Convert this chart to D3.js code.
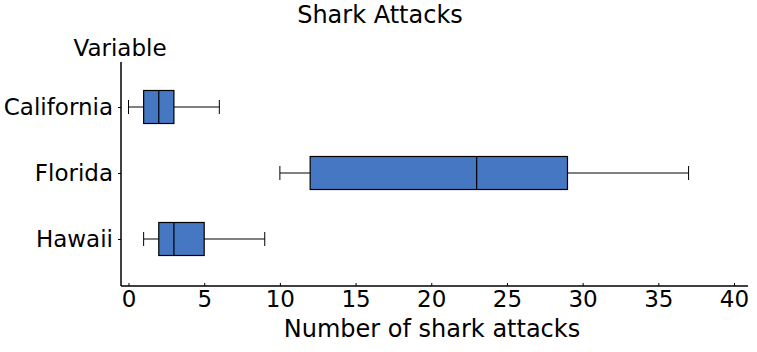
<!DOCTYPE html>
<html>
<head>
<meta charset="utf-8">
<script src="https://cdn.jsdelivr.net/npm/d3@7"></script>
<style>
  body { margin: 0; background: #fff; }
  svg { font-family: "DejaVu Sans", Verdana, sans-serif; }
</style>
</head>
<body>
<script>
// data
var categories = ["California", "Florida", "Hawaii"];
var mins    = [0, 10, 1];
var q1s     = [1, 12, 2];
var medians = [2, 23, 3];
var q3s     = [3, 29, 5];
var maxs    = [6, 37, 9];
var xTicks  = [0, 5, 10, 15, 20, 25, 30, 35, 40];

var width = 757, height = 352;
var plot = {left: 121, right: 748, top: 62, bottom: 286};

var svg = d3.select("body").append("svg")
    .attr("width", width)
    .attr("height", height);

var x = d3.scaleLinear().domain([0, 40]).range([128.5, 734]);
var y = d3.scalePoint().domain(categories).range([107, 239]);

var boxH = 33, capH = 14;

var rows = categories.map(function(c, i) {
  return {cat: c, min: mins[i], q1: q1s[i], med: medians[i], q3: q3s[i], max: maxs[i]};
});

// x axis
var gx = svg.append("g")
    .attr("transform", "translate(0," + plot.bottom + ")")
    .call(d3.axisBottom(x).tickValues(xTicks).tickSizeInner(-3).tickSizeOuter(0).tickPadding(5));
gx.select(".domain").remove();
gx.append("line")
    .attr("x1", plot.left).attr("x2", plot.right)
    .attr("stroke", "#000").attr("stroke-width", 1.5);
gx.selectAll(".tick text").attr("font-size", 23).attr("fill", "#000")
    .attr("font-family", "DejaVu Sans, Verdana, sans-serif");

// y axis
var gy = svg.append("g")
    .attr("transform", "translate(" + plot.left + ",0)")
    .call(d3.axisLeft(y).tickSizeInner(3).tickSizeOuter(0).tickPadding(5));
gy.select(".domain").remove();
gy.append("line")
    .attr("y1", plot.top).attr("y2", plot.bottom)
    .attr("stroke", "#000").attr("stroke-width", 1.5);
gy.selectAll(".tick text").attr("font-size", 23).attr("fill", "#000")
    .attr("font-family", "DejaVu Sans, Verdana, sans-serif");

// boxes
var g = svg.selectAll(".box").data(rows).enter().append("g").attr("class", "box");

g.append("line")
    .attr("x1", function(d) { return x(d.min); })
    .attr("x2", function(d) { return x(d.max); })
    .attr("y1", function(d) { return y(d.cat); })
    .attr("y2", function(d) { return y(d.cat); })
    .attr("stroke", "#000").attr("stroke-width", 1);

g.selectAll(".cap").data(function(d) { return [d.min, d.max].map(function(v) { return {v: v, cat: d.cat}; }); })
  .enter().append("line")
    .attr("x1", function(d) { return x(d.v); })
    .attr("x2", function(d) { return x(d.v); })
    .attr("y1", function(d) { return y(d.cat) - capH / 2; })
    .attr("y2", function(d) { return y(d.cat) + capH / 2; })
    .attr("stroke", "#000").attr("stroke-width", 1);

g.append("rect")
    .attr("x", function(d) { return x(d.q1); })
    .attr("width", function(d) { return x(d.q3) - x(d.q1); })
    .attr("y", function(d) { return y(d.cat) - boxH / 2; })
    .attr("height", boxH)
    .attr("fill", "#4677c2")
    .attr("stroke", "#000").attr("stroke-width", 1.2);

g.append("line")
    .attr("x1", function(d) { return x(d.med); })
    .attr("x2", function(d) { return x(d.med); })
    .attr("y1", function(d) { return y(d.cat) - boxH / 2; })
    .attr("y2", function(d) { return y(d.cat) + boxH / 2; })
    .attr("stroke", "#000").attr("stroke-width", 1.2);

// titles
svg.append("text")
    .attr("x", 380).attr("y", 22.5)
    .attr("text-anchor", "middle").attr("font-size", 24)
    .text("Shark Attacks");

svg.append("text")
    .attr("x", 120).attr("y", 56)
    .attr("text-anchor", "middle").attr("font-size", 23)
    .text("Variable");

svg.append("text")
    .attr("x", 432).attr("y", 337)
    .attr("text-anchor", "middle").attr("font-size", 24)
    .text("Number of shark attacks");
</script>
</body>
</html>
